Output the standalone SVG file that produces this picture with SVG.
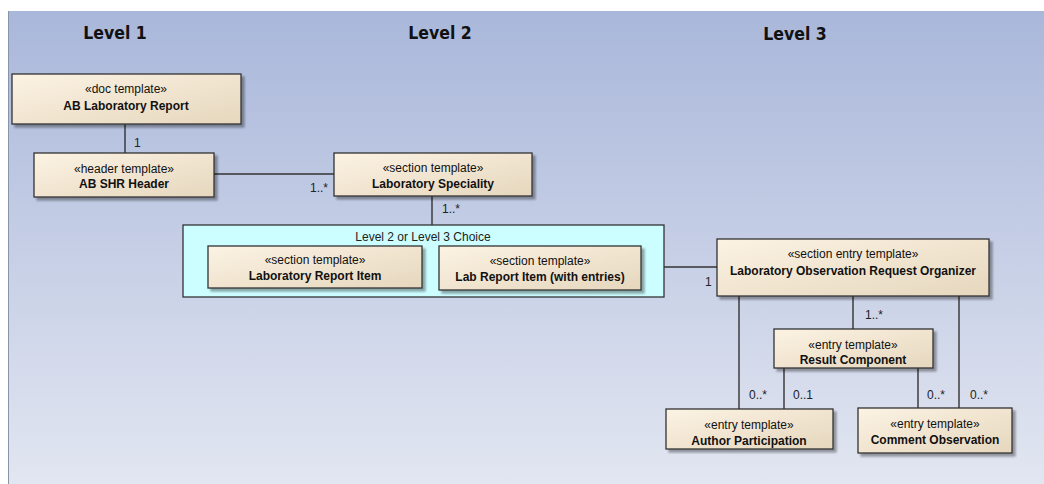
<svg xmlns="http://www.w3.org/2000/svg" width="1044" height="484" viewBox="0 0 1044 484">
<defs>
<linearGradient id="bg" x1="0" y1="0" x2="0" y2="1">
<stop offset="0" stop-color="#a9b7da"/>
<stop offset="1" stop-color="#e2e6f1"/>
</linearGradient>
<linearGradient id="box" x1="0" y1="0" x2="1" y2="1">
<stop offset="0" stop-color="#fcf3e4"/>
<stop offset="1" stop-color="#e6d7bd"/>
</linearGradient>
<filter id="sh" x="-5%" y="-10%" width="115%" height="130%">
<feOffset in="SourceAlpha" dx="3" dy="3" result="o"/>
<feGaussianBlur in="o" stdDeviation="1" result="b"/>
<feComponentTransfer in="b" result="c"><feFuncA type="linear" slope="0.35"/></feComponentTransfer>
<feMerge><feMergeNode in="c"/><feMergeNode in="SourceGraphic"/></feMerge>
</filter>
</defs>
<style>
.box{fill:url(#box);stroke:#333;stroke-width:1.3;filter:url(#sh)}
.st{font-family:"Liberation Sans",Arial,sans-serif;font-size:12px;fill:#111;text-anchor:middle}
.nm{font-family:"Liberation Sans",Arial,sans-serif;font-size:12px;font-weight:bold;fill:#111;text-anchor:middle}
.lv{font-family:"DejaVu Sans Condensed","DejaVu Sans",sans-serif;font-stretch:condensed;font-size:17.5px;font-weight:bold;fill:#111;text-anchor:middle}
.m{font-family:"Liberation Sans",Arial,sans-serif;font-size:12px;fill:#222}
.c line{stroke:#333;stroke-width:1.4}
</style>
<rect x="0" y="0" width="1044" height="484" fill="#fff"/>
<rect x="8" y="11" width="1036" height="473" fill="url(#bg)"/>
<line x1="8.5" y1="11" x2="8.5" y2="484" stroke="#8a94a8" stroke-width="1"/>

<text class="lv" x="115" y="39">Level 1</text>
<text class="lv" x="440" y="39">Level 2</text>
<text class="lv" x="795" y="40">Level 3</text>

<g class="c" id="connectors">
<line x1="125" y1="124" x2="125" y2="153"/>
<line x1="214" y1="174" x2="334" y2="174"/>
<line x1="432" y1="196" x2="432" y2="225"/>
<line x1="641" y1="267" x2="717" y2="267"/>
<line x1="853" y1="296" x2="853" y2="329"/>
<line x1="739" y1="296" x2="739" y2="409"/>
<line x1="784" y1="368" x2="784" y2="409"/>
<line x1="918" y1="368" x2="918" y2="408"/>
<line x1="959" y1="296" x2="959" y2="408"/>
<text class="m" x="134" y="147">1</text>
<text class="m" x="310" y="192">1..*</text>
<text class="m" x="442" y="213">1..*</text>
<text class="m" x="705" y="286">1</text>
<text class="m" x="865" y="319">1..*</text>
<text class="m" x="749" y="399">0..*</text>
<text class="m" x="793" y="399">0..1</text>
<text class="m" x="927" y="399">0..*</text>
<text class="m" x="970" y="399">0..*</text>
</g>

<g id="n-ablab">
<rect class="box" x="12" y="74" width="229" height="50"/>
<text class="st" x="126" y="93">«doc template»</text>
<text class="nm" x="126" y="110">AB Laboratory Report</text>
</g>
<g id="n-shr">
<rect class="box" x="34" y="153" width="180" height="44"/>
<text class="st" x="124" y="173">«header template»</text>
<text class="nm" x="124" y="188">AB SHR Header</text>
</g>
<g id="n-spec">
<rect class="box" x="334" y="153" width="198" height="43"/>
<text class="st" x="433" y="172">«section template»</text>
<text class="nm" x="433" y="188">Laboratory Speciality</text>
</g>
<g id="n-choice">
<rect x="183" y="225" width="481" height="72" fill="#ccfdff" stroke="#333" stroke-width="1.3"/>
<text class="st" x="423" y="241" style="fill:#222">Level 2 or Level 3 Choice</text>
</g>
<g id="n-lri">
<rect class="box" x="208" y="246" width="214" height="42"/>
<text class="st" x="315" y="264">«section template»</text>
<text class="nm" x="315" y="280">Laboratory Report Item</text>
</g>
<g id="n-lrie">
<rect class="box" x="439" y="246" width="202" height="44"/>
<text class="st" x="540" y="265">«section template»</text>
<text class="nm" x="540" y="281">Lab Report Item (with entries)</text>
</g>
<g id="n-loro">
<rect class="box" x="717" y="239" width="272" height="57"/>
<text class="st" x="853" y="258">«section entry template»</text>
<text class="nm" x="853" y="275">Laboratory Observation Request Organizer</text>
</g>
<g id="n-rc">
<rect class="box" x="774" y="329" width="159" height="39"/>
<text class="st" x="853" y="349">«entry template»</text>
<text class="nm" x="853" y="364">Result Component</text>
</g>
<g id="n-ap">
<rect class="box" x="666" y="409" width="167" height="40"/>
<text class="st" x="749" y="429">«entry template»</text>
<text class="nm" x="749" y="445">Author Participation</text>
</g>
<g id="n-co">
<rect class="box" x="858" y="408" width="154" height="45"/>
<text class="st" x="935" y="428">«entry template»</text>
<text class="nm" x="935" y="444">Comment Observation</text>
</g>
</svg>
